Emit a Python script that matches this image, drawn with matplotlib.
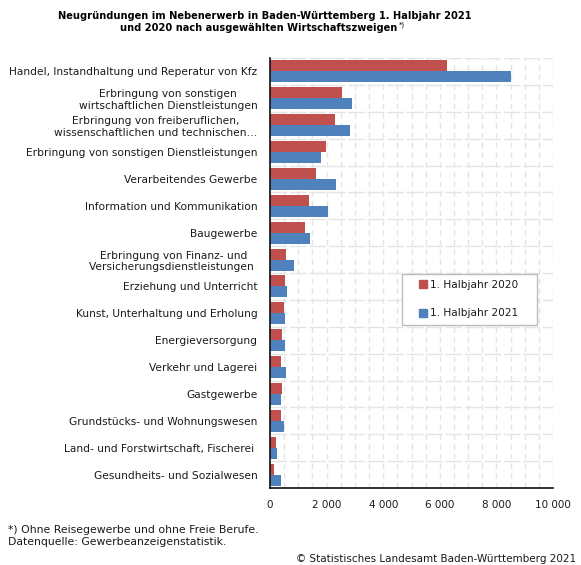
import matplotlib
matplotlib.use("Agg")
import matplotlib.pyplot as plt
from matplotlib.lines import Line2D
from matplotlib.patches import Rectangle
from matplotlib.ticker import MultipleLocator, FixedLocator, FuncFormatter
import numpy as np

categories = [
    "Handel, Instandhaltung und Reperatur von Kfz",
    "Erbringung von sonstigen\nwirtschaftlichen Dienstleistungen",
    "Erbringung von freiberuflichen,\nwissenschaftlichen und technischen…",
    "Erbringung von sonstigen Dienstleistungen",
    "Verarbeitendes Gewerbe",
    "Information und Kommunikation",
    "Baugewerbe",
    "Erbringung von Finanz- und\nVersicherungsdienstleistungen ",
    "Erziehung und Unterricht",
    "Kunst, Unterhaltung und Erholung",
    "Energieversorgung",
    "Verkehr und Lagerei",
    "Gastgewerbe",
    "Grundstücks- und Wohnungswesen",
    "Land- und Forstwirtschaft, Fischerei ",
    "Gesundheits- und Sozialwesen",
]
values_2020 = [6250, 2550, 2300, 1990, 1630, 1390, 1250, 580, 540, 510, 435, 400, 435, 400, 225, 155]
values_2021 = [8510, 2900, 2830, 1810, 2340, 2060, 1420, 860, 610, 540, 540, 575, 400, 505, 260, 400]
series_labels = ["1. Halbjahr 2020", "1. Halbjahr 2021"]
xticks = [0, 2000, 4000, 6000, 8000, 10000]

RED = "#C0504D"
BLUE = "#4F81BD"
GRID = "#E4E4E4"
TXT = "#1a1a1a"

plt.rcParams["font.family"] = ["DejaVu Sans"]

W, H = 581, 565
fig = plt.figure(figsize=(W / 100, H / 100), dpi=100)
ax = fig.add_axes([270 / W, 77 / H, 283 / W, 430 / H])

y = np.arange(len(categories))
bh = 0.41
ax.barh(y - bh / 2, values_2020, height=bh, color=RED, zorder=3)
ax.barh(y + bh / 2, values_2021, height=bh, color=BLUE, zorder=3)

ax.set_xlim(0, 10000)
ax.set_ylim(len(categories) - 0.5, -0.5)

ax.xaxis.set_major_locator(FixedLocator(xticks))
ax.xaxis.set_minor_locator(MultipleLocator(500))
ax.xaxis.set_major_formatter(FuncFormatter(lambda v, p: f"{int(v):,}".replace(",", " ")))
ax.set_yticks(y)
ax.set_yticklabels(categories, multialignment="center")
ax.yaxis.set_minor_locator(FixedLocator(np.arange(-0.5, len(categories), 1.0)))

ax.xaxis.grid(True, which="both", color=GRID, linestyle=(0, (4, 3)), linewidth=1.0, zorder=0)
ax.yaxis.grid(True, which="minor", color=GRID, linestyle=(0, (12, 2)), linewidth=1.0, zorder=0)
ax.yaxis.grid(False, which="major")
ax.set_axisbelow(True)

ax.tick_params(axis="both", which="both", length=0, colors=TXT)
ax.tick_params(axis="y", pad=9, labelsize=7.7)
ax.tick_params(axis="x", pad=9, labelsize=7.5)

for s in ["top", "right"]:
    ax.spines[s].set_visible(False)
for s in ["left", "bottom"]:
    ax.spines[s].set_color("#111111")
    ax.spines[s].set_linewidth(1.2)
    ax.spines[s].set_zorder(4)

# legend
handles = [
    Line2D([], [], marker="s", linestyle="none", markersize=5.5, color=RED),
    Line2D([], [], marker="s", linestyle="none", markersize=5.5, color=BLUE),
]
leg = fig.legend(handles, series_labels, loc="upper left",
                 bbox_to_anchor=(420 / W, 1 - 280 / H), bbox_transform=fig.transFigure,
                 frameon=False, fontsize=7.6, handlelength=0.6, handletextpad=0.3,
                 labelspacing=1.75, borderpad=0, borderaxespad=0)
for t in leg.get_texts():
    t.set_color(TXT)
fig.patches.append(Rectangle((402 / W, 1 - 325 / H), 135 / W, 51 / H,
                             transform=fig.transFigure, facecolor="white",
                             edgecolor="#BDBDBD", linewidth=1.0, zorder=5))
leg.set_zorder(6)

# title
fig.text(265 / W, 1 - 16 / H, "Neugründungen im Nebenerwerb in Baden-Württemberg 1. Halbjahr 2021",
         ha="center", va="center", fontsize=7.1, fontweight="bold", color="black")
t2 = fig.text(259 / W, 1 - 28 / H, "und 2020 nach ausgewählten Wirtschaftszweigen",
              ha="center", va="center", fontsize=7.1, fontweight="bold", color="black")
fig.canvas.draw()
bb = t2.get_window_extent()
fig.text((bb.x1 + 1) / W, 1 - 25 / H, "*)", ha="left", va="center", fontsize=5, color="black")

# footnotes
fig.text(8 / W, 1 - 530 / H, "*) Ohne Reisegewerbe und ohne Freie Berufe.", ha="left", va="center",
         fontsize=7.8, color=TXT)
fig.text(8 / W, 1 - 542 / H, "Datenquelle: Gewerbeanzeigenstatistik.", ha="left", va="center",
         fontsize=7.8, color=TXT)
fig.text(576 / W, 1 - 559 / H, "© Statistisches Landesamt Baden-Württemberg 2021", ha="right",
         va="center", fontsize=7.5, color=TXT)

fig.savefig("out.png", dpi=100)
